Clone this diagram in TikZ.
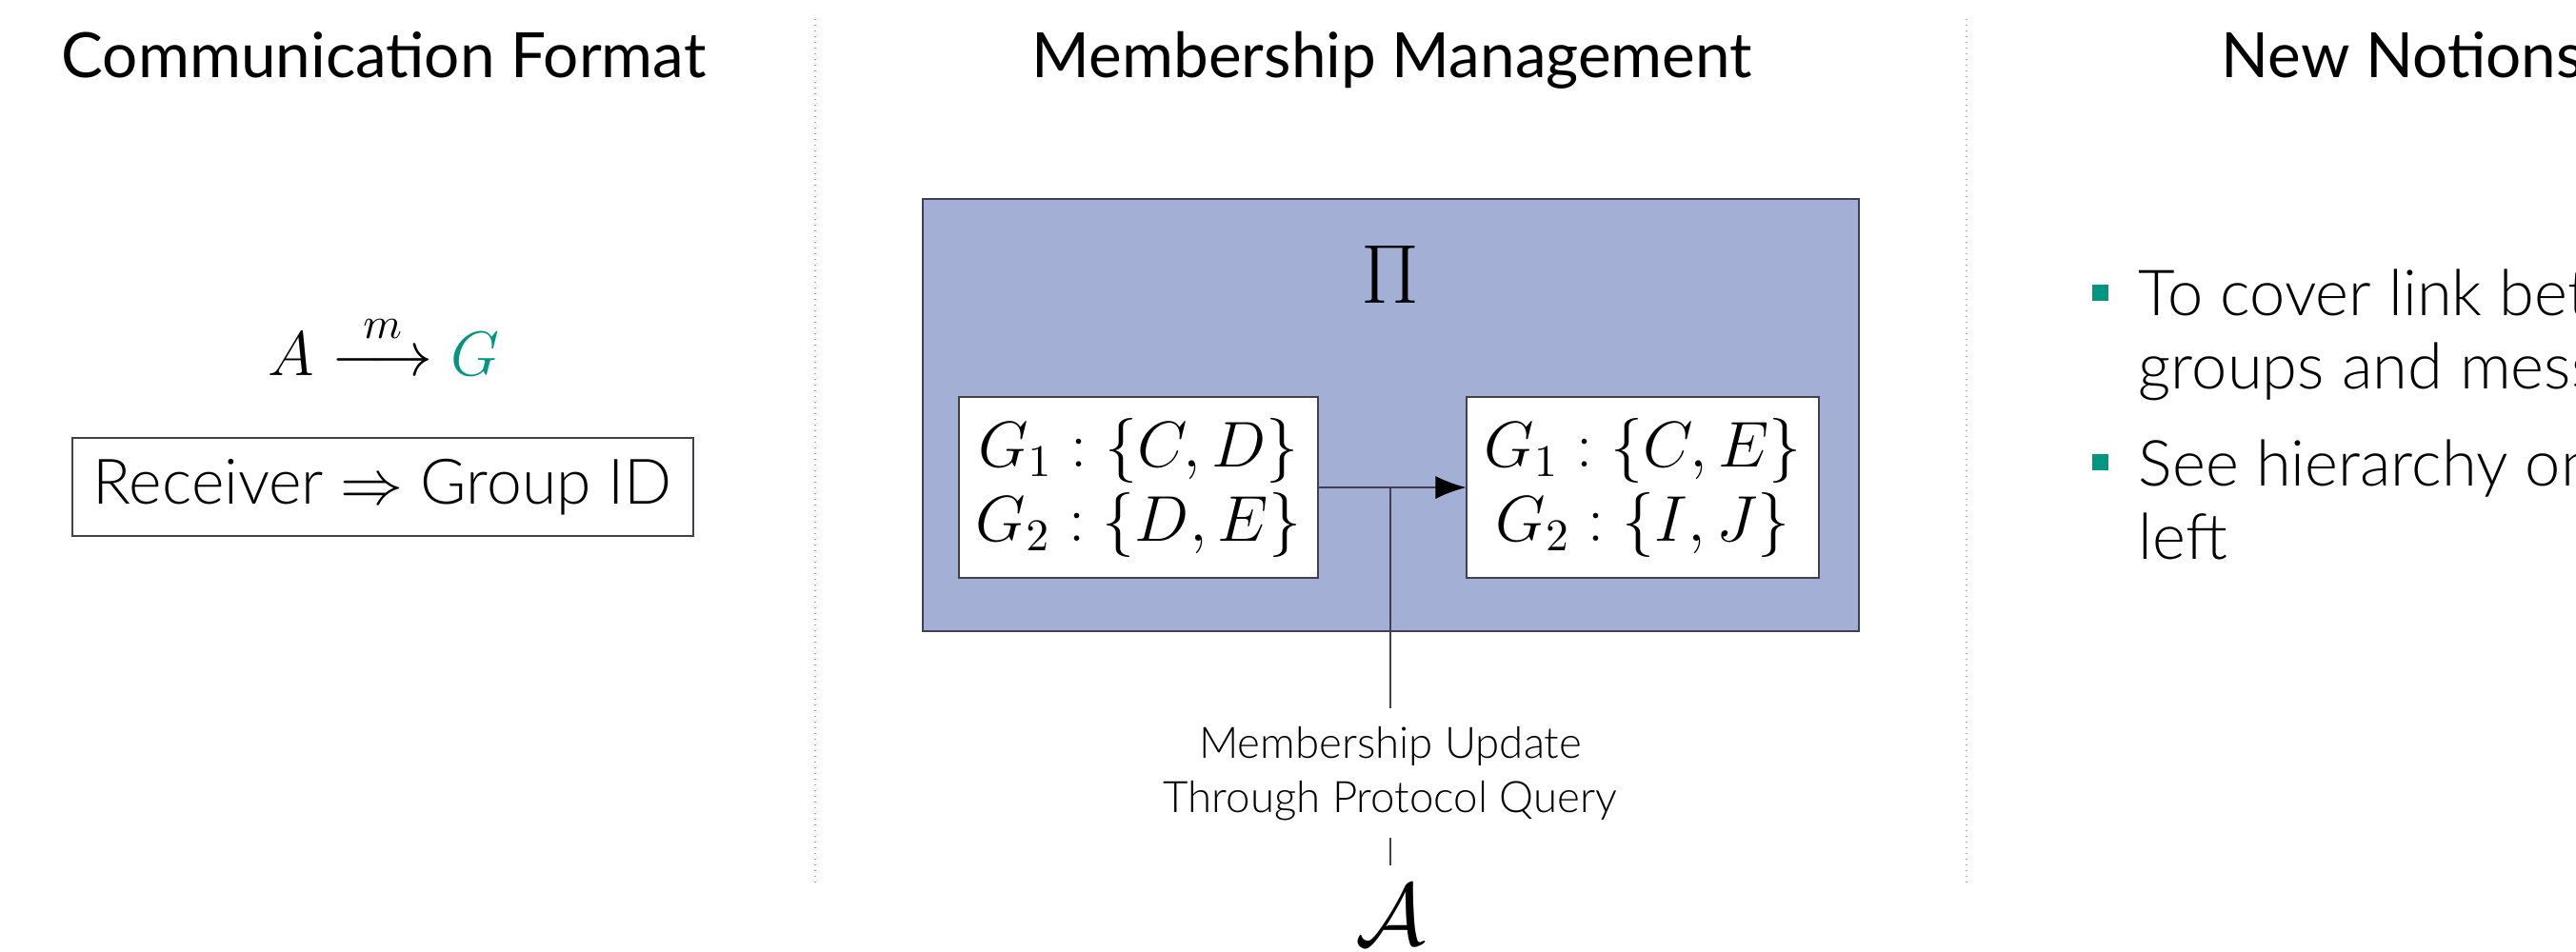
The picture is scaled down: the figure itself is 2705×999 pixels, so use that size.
\RequirePackage{fix-cm}
\documentclass[tikz,border=0pt]{standalone}
\usepackage{amsmath}
\usepackage{fontspec}
\setmainfont{Lato}
\newfontfamily\lightfont{Lato Light}
\usetikzlibrary{arrows.meta}
\definecolor{kitgreen}{RGB}{0,150,130}
\definecolor{kitblue50}{RGB}{163,175,212}
\definecolor{edgegray}{RGB}{64,64,80}

\tikzset{
  title/.style={font=\fontsize{16.4}{20}\selectfont, anchor=base, inner sep=0pt},
  body/.style={font=\lightfont\fontsize{16.7}{19.25}\selectfont, inner sep=0pt},
  divider/.style={draw=black!35, line width=0.3pt, dash pattern=on 0.3pt off 1.2pt},
  groupbox/.style={draw=edgegray, line width=0.3pt, fill=white, inner sep=0pt,
    font=\fontsize{17}{19.5}\selectfont, align=center},
  conn/.style={draw=edgegray, line width=0.35pt},
  bulletsq/.style={fill=kitgreen, minimum size=4.25pt, inner sep=0pt},
}

\begin{document}
\begin{tikzpicture}[x=0.25pt, y=-0.25pt]
\useasboundingbox (0,0) rectangle (2705,999);

% column separators
\draw[divider] (856,20) -- (856,927);
\draw[divider] (2065,20) -- (2065,927);

% column headings
\node[title] (t1) at (403,81) {Communication Format};
\node[title] (t2) at (1462,81) {Membership Management};
\node[title, anchor=base west] (t3) at (2332,81) {New Notions};

% left column: communication format
\node[font=\fontsize{16.5}{20}\selectfont, anchor=base, inner sep=0pt] (msg) at (403,394)
  {$A \overset{m}{\longrightarrow} {\color{kitgreen}G}$};
\node[body, font=\lightfont\fontsize{16.5}{18}\selectfont, draw=edgegray, line width=0.35pt,
  minimum width=163pt, minimum height=25.75pt]
  (recv) at (402,511.5) {Receiver $\Rightarrow$ Group ID};

% middle column: protocol box with membership states
\draw[draw=edgegray, line width=0.35pt, fill=kitblue50] (969,209) rectangle (1952,663);
\node[font=\fontsize{22}{26}\selectfont, anchor=base, inner sep=0pt] (pi) at (1460,318) {$\Pi$};
\node[groupbox, minimum width=94.25pt, minimum height=47.5pt] (lbox) at (1195.5,512)
  {$G_1:\{C,D\}$\\$G_2:\{D,E\}$};
\node[groupbox, minimum width=92.5pt, minimum height=47.5pt] (rbox) at (1725,512)
  {$G_1:\{C,E\}$\\$G_2:\{I,J\}$};
\draw[conn, -{Latex[length=8pt,width=6pt,color=black]}] (lbox.east) -- (rbox.west);

% adversary query feeding the update
\node[font=\lightfont\fontsize{11.4}{14.25}\selectfont, align=center, inner xsep=0pt,
  inner ysep=4.5pt, anchor=north] (lbl) at (1460,744)
  {Membership Update\\Through Protocol Query};
\node[font=\fontsize{23}{26}\selectfont, anchor=north, inner sep=5pt] (adv) at (1460,909)
  {$\mathcal{A}$};
\coordinate (junc) at (lbl.north |- lbox.east);
\draw[conn] (junc) -- (lbl.north);
\draw[conn] (lbl.south) -- (adv.north);

% right column: bullet list (anchored on the last line's baseline)
\node[bulletsq] (b1) at (2205.5,307) {};
\node[body, anchor=base west, align=left] (i1) at (2245,408)
  {To cover link between\\groups and messages};
\node[bulletsq] (b2) at (2205.5,485) {};
\node[body, anchor=base west, align=left] (i2) at (2245,587)
  {See hierarchy on the\\left};
\end{tikzpicture}
\end{document}
